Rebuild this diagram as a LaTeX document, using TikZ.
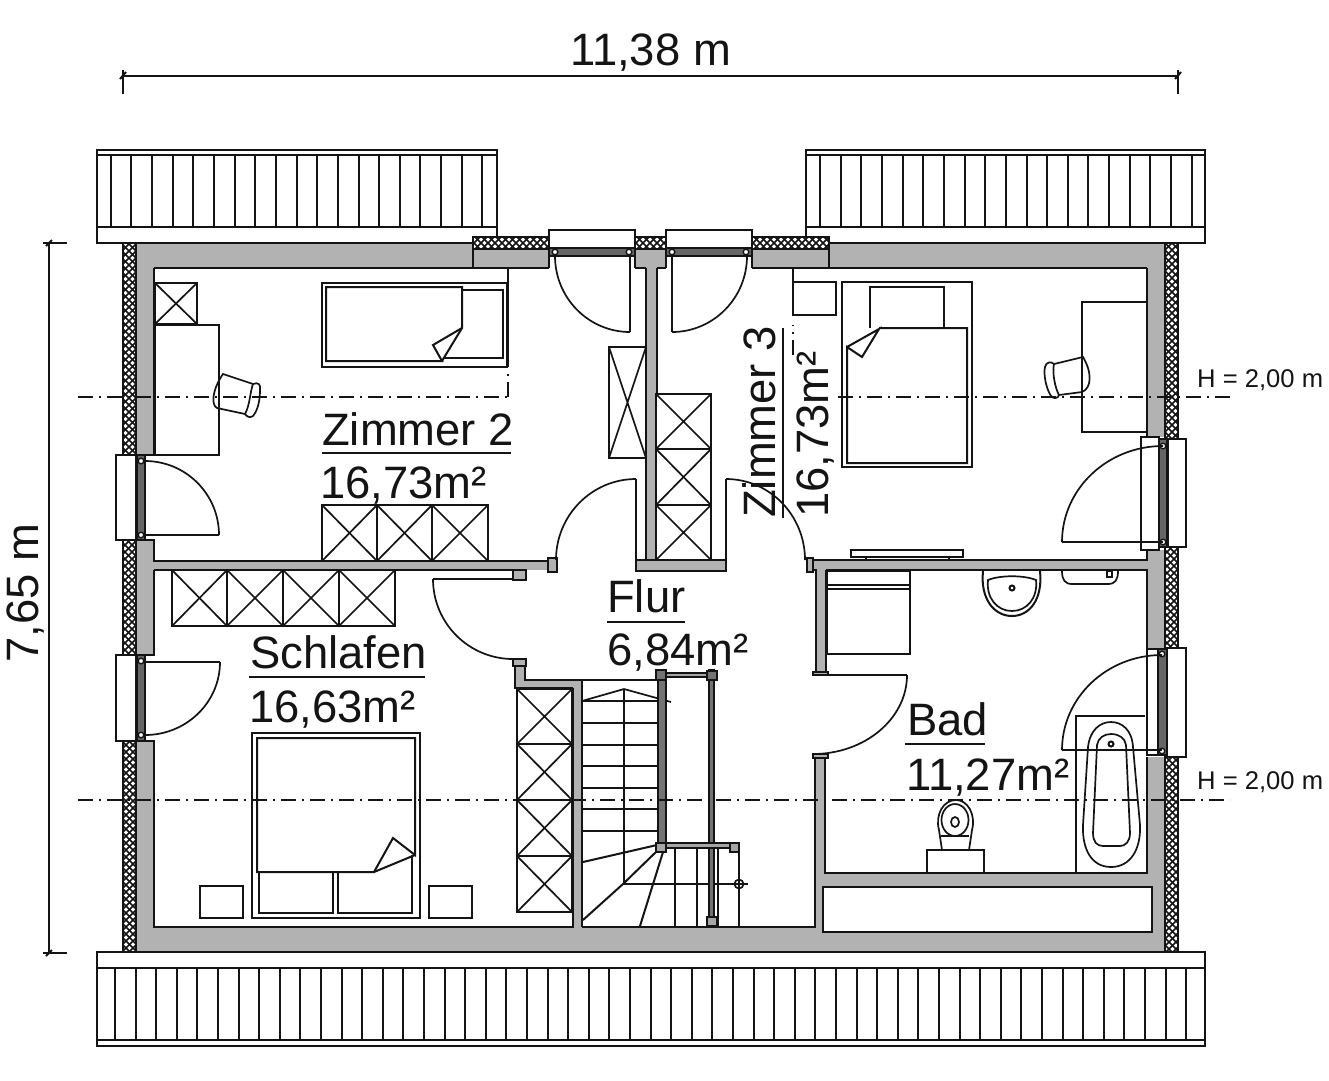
\documentclass[tikz,border=0pt]{standalone}
\usepackage{fontspec}
\setmainfont{Liberation Sans}
\usetikzlibrary{calc}
\definecolor{wallgray}{RGB}{178,178,178}
\definecolor{ink}{RGB}{20,20,20}
\tikzset{
  ln/.style={draw=ink,line width=2pt},
  thinln/.style={draw=ink,line width=1.7pt},
  furn/.style={draw=ink,line width=1.9pt,fill=white},
  wallfill/.style={fill=wallgray,draw=none},
  wallbox/.style={draw=ink,line width=2pt,fill=wallgray},
  winbox/.style={draw=ink,line width=2pt,fill=white},
  dashdot/.style={draw=ink,line width=1.9pt,dash pattern=on 15pt off 6pt on 2pt off 6pt},
  lbl/.style={anchor=base west,inner sep=0pt,text=ink,font=\fontsize{45.4}{46}\selectfont},
  small/.style={anchor=base west,inner sep=0pt,text=ink,font=\fontsize{25.6}{26}\selectfont},
}
% leaf and swing of a door: hinge, free end, other end, corner
\newcommand\doorswing[4]{%
  \draw[ln] #1 -- #2;
  \draw[thinln] #2 .. controls ($#2!.5523!#4$) and ($#3!.5523!#4$) .. #3;
}
\newcommand\hatchbox[4]{%
  \begin{scope}
    \fill[white] (#1,#2) rectangle (#3,#4);
    \clip (#1,#2) rectangle (#3,#4);
    \pgfmathsetmacro\hh{#4-#2}
    \pgfmathsetmacro\ta{#1-\hh-7}
    \pgfmathsetmacro\tb{\ta+7}
    \foreach \t in {\ta,\tb,...,#3} {
      \draw[ink,line width=1.7pt] (\t,#2) -- ++(\hh,\hh);
      \draw[ink,line width=1.7pt] (\t,#4) -- ++(\hh,-\hh);
    }
  \end{scope}
  \draw[ink,line width=1.8pt] (#1,#2) rectangle (#3,#4);
}
\newcommand\xbox[4]{%
  \draw[furn] (#1,#2) rectangle (#3,#4);
  \draw[thinln] (#1,#2) -- (#3,#4) (#1,#4) -- (#3,#2);
}
\begin{document}
\begin{tikzpicture}[x=1pt,y=-1pt]
\useasboundingbox (0,0) rectangle (1329,1080);
\fill[white] (0,0) rectangle (1329,1080);

% roofs
\draw[ln] (96.5,149.5) rectangle (496.5,243);
\draw[ln] (96.5,155) -- (496.5,155) (96.5,227) -- (496.5,227);
\foreach \k in {0,...,18} \draw[ln] ({110.7+20.65*\k},155) -- ({110.7+20.65*\k},227);
\draw[ln] (806,149.5) rectangle (1205,243);
\draw[ln] (806,155) -- (1205,155) (806,227) -- (1205,227);
\foreach \k in {0,...,18} \draw[ln] ({820+20.65*\k},155) -- ({820+20.65*\k},227);
\draw[ln] (97,952) rectangle (1205,1046);
\draw[ln] (97,968) -- (1205,968) (97,1040) -- (1205,1040);
\foreach \k in {0,...,52} \draw[ln] ({115+20.6*\k},968) -- ({115+20.6*\k},1040);

% gray wall surfaces
\fill[wallfill] (136,243) rectangle (473,268);
\fill[wallfill] (473,249) rectangle (549,268);
\fill[wallfill] (635,249) rectangle (666,268);
\fill[wallfill] (752,249) rectangle (829,268);
\fill[wallfill] (829,243) rectangle (1165,268);
\fill[wallfill] (136,243) rectangle (154,455);
\fill[wallfill] (136,540) rectangle (154,655);
\fill[wallfill] (136,741) rectangle (154,952);
\fill[wallfill] (1147,243) rectangle (1165,437);
\fill[wallfill] (1147,550) rectangle (1165,648);
\fill[wallfill] (1147,757) rectangle (1165,952);
\fill[wallfill] (136,927) rectangle (1165,952);
\fill[wallfill] (154,561) rectangle (557,570);
\fill[wallfill] (646,268) rectangle (657,562);
\fill[wallfill] (807,560) rectangle (1147,570);
\fill[wallfill] (816,570) rectangle (826,672);
\fill[wallfill] (815,755) rectangle (825,930);
\fill[wallfill] (515,660) rectangle (525,688);
\fill[wallfill] (515,680) rectangle (582,688);
\fill[wallfill] (573,688) rectangle (582,930);
\fill[wallfill] (815,873) rectangle (1165,890);

% insulation strips
\hatchbox{123}{243}{136}{455}
\hatchbox{123}{540}{136}{655}
\hatchbox{123}{741}{136}{952}
\hatchbox{1165}{243}{1178}{439}
\hatchbox{1165}{547}{1178}{648}
\hatchbox{1165}{757}{1178}{952}
\hatchbox{473}{237}{549}{249}
\hatchbox{635}{237}{666}{249}
\hatchbox{752}{237}{829}{249}

% wall outlines
\draw[ln] (136,243) -- (473,243) (829,243) -- (1165,243);
\draw[ln] (154,268) -- (549,268) (635,268) -- (646,268) (657,268) -- (666,268) (752,268) -- (1147,268);
\draw[ln] (473,237) -- (473,268) (549,230) -- (549,268) (635,230) -- (635,268) (666,230) -- (666,268) (752,230) -- (752,268) (829,237) -- (829,268);
\draw[ln] (646,268) -- (646,560) (657,268) -- (657,560);
\draw[ln] (154,268) -- (154,455) (136,455) -- (154,455);
\draw[ln] (136,540) -- (154,540) -- (154,561) -- (548,561);
\draw[ln] (154,570) -- (513,570);
\draw[ln] (136,655) -- (154,655) -- (154,570);
\draw[ln] (136,741) -- (154,741) -- (154,927) -- (573,927) -- (573,688);
\draw[ln] (582,927) -- (815,927) -- (815,756);
\draw[ln] (825,756) -- (825,873) -- (1147,873) -- (1147,757);
\draw[ln] (1147,268) -- (1147,437);
\draw[ln] (1147,550) -- (1147,560) -- (807,560);
\draw[ln] (826,570) -- (1147,570) -- (1147,648);
\draw[ln] (807,570) -- (816,570) -- (816,672) (826,570) -- (826,672);
\draw[ln] (515,660) -- (515,688) -- (573,688) (525,660) -- (525,680) -- (657,680) (582,680) -- (582,927);
\draw[ln] (136,952) -- (1165,952);
\draw[wallbox] (548,558) rectangle (557,572);
\draw[wallbox] (636,560) rectangle (726,571);
\draw[wallbox] (807,558) rectangle (813,572);
\draw[wallbox] (513,570) rectangle (526,580);
\draw[wallbox] (513,659) rectangle (526,666);
\draw[wallbox] (813,672) rectangle (828,675);
\draw[wallbox] (813,754) rectangle (828,758);
\fill[wallfill] (827,875) rectangle (1145,886);
\draw[furn] (823,887) rectangle (1152,932);

% windows
\draw[winbox] (549,230) rectangle (635,248);
\draw[winbox] (666,230) rectangle (752,248);
\draw[ln,fill=black!60] (549,248) rectangle (635,256);
\draw[ln,fill=black!60] (666,248) rectangle (752,256);
\draw[winbox] (116,455) rectangle (136,540);
\draw[winbox] (116,655) rectangle (136,741);
\draw[ln,fill=black!60] (137,455) rectangle (145,540);
\draw[ln,fill=black!60] (137,655) rectangle (145,741);
\draw[winbox] (1168,439) rectangle (1186,547);
\draw[winbox] (1141,437) rectangle (1159,550);
\draw[ln,fill=black!60] (1159,439) rectangle (1167,547);
\draw[winbox] (1167,648) rectangle (1186,757);
\draw[winbox] (1147,649) rectangle (1158,755);
\draw[ln,fill=black!60] (1158,649) rectangle (1167,755);
\foreach \p in {(555,252),(629,252),(672,252),(746,252),(141,461),(141,535),(141,661),(141,735),(1163,446),(1163,542),(1162,654),(1162,751)}
  \draw[ink,line width=1.4pt,fill=white] \p circle (2.8);

% doors
\doorswing{(630,256)}{(630,332)}{(555,256)}{(555,332)}
\doorswing{(672,256)}{(672,332)}{(747,256)}{(747,332)}
\doorswing{(145,535)}{(219,535)}{(145,461)}{(219,461)}
\doorswing{(145,662)}{(220,662)}{(145,735)}{(220,735)}
\doorswing{(636,560)}{(636,479)}{(556,560)}{(556,479)}
\doorswing{(726,560)}{(726,479)}{(805,560)}{(805,479)}
\doorswing{(513,579)}{(433,579)}{(513,659)}{(433,659)}
\doorswing{(813,675)}{(907,675)}{(813,754)}{(907,754)}
\doorswing{(1163,542)}{(1062,542)}{(1163,446)}{(1062,446)}
\doorswing{(1162,750)}{(1062,750)}{(1162,655)}{(1062,655)}

% Zimmer 2 furniture
\xbox{155}{283}{197}{324}
\draw[furn] (155,325) rectangle (219,455);
\draw[ln] (322,283) rectangle (507,367);
\draw[ln] (508,268) -- (508,367);
\draw[ln] (326,287) -- (462,287) -- (462,328) -- (433,345) -- (442,361) -- (326,361) -- cycle;
\draw[ln] (462,290) -- (503,290) -- (503,358) -- (444,358);
\draw[ln] (462,328) -- (442,361);
\draw[thinln] (223,374) -- (253,384) .. controls (258,382) and (261,384) .. (260,390) .. controls (260,400) and (258,410) .. (253,416) .. controls (250,418) and (247,417) .. (245,414) -- (217,408) .. controls (211,405) and (212,390) .. cycle;
\draw[thinln] (253,384) .. controls (250,392) and (250,405) .. (245,414);
\xbox{322}{505}{377}{561}
\xbox{377}{505}{432}{561}
\xbox{432}{505}{488}{561}
\xbox{609}{347}{646}{458}

% Zimmer 3 furniture
\xbox{656}{394}{711}{449}
\xbox{656}{449}{711}{505}
\xbox{656}{505}{711}{560}
\draw[ln] (793,268) -- (793,315) -- (836,315) -- (836,282) -- (793,282);
\draw[ln] (842,282) rectangle (972,467);
\draw[ln] (870,328) -- (870,287) -- (944,287) -- (944,328);
\draw[ln] (879,328) -- (967,328) -- (967,463) -- (847,463) -- (847,347) -- (862,357) -- (879,329) -- (847,347);
\draw[furn] (1082,302) rectangle (1147,432);
\draw[thinln] (1083,357) -- (1054,364) .. controls (1051,361) and (1046,362) .. (1045,367) .. controls (1043,375) and (1047,392) .. (1052,397) .. controls (1055,399) and (1058,398) .. (1059,395) -- (1082,392) .. controls (1092,388) and (1092,372) .. cycle;
\draw[thinln] (1054,364) .. controls (1052,372) and (1055,388) .. (1059,395);
\draw[furn] (851,550) rectangle (963,557);
\draw[ln] (866,557) -- (866,560) (949,557) -- (949,560);

% Schlafen furniture
\xbox{172}{570}{227}{626}
\xbox{227}{570}{283}{626}
\xbox{283}{570}{339}{626}
\xbox{339}{570}{395}{626}
\draw[ln] (252,733) rectangle (420,918);
\draw[ln] (257,872) -- (257,738) -- (415,738) -- (415,855) -- (393,838) -- (374,872) -- cycle;
\draw[ln] (415,855) -- (374,872);
\draw[ln] (259,872) -- (259,913) -- (333,913) -- (333,872);
\draw[ln] (338,872) -- (338,913) -- (412,913) -- (412,855);
\draw[furn] (200,886) rectangle (243,918);
\draw[furn] (429,886) rectangle (472,918);

% Flur closet
\xbox{517}{689}{572}{744}
\xbox{517}{744}{572}{800}
\xbox{517}{800}{572}{856}
\xbox{517}{856}{572}{912}

% stairs
\foreach \y in {701,723,745,766,788,809,831} \draw[ln] (582,\y) -- (658,\y);
\draw[ln] (624,689) -- (624,884);
\draw[thinln] (582,701) -- (624,689) -- (671,702);
\draw[ln] (583,862) -- (657,845);
\draw[ln] (583,920) -- (623,884) -- (658,850);
\draw[ln] (640,926) -- (663,852);
\draw[ln] (623,884) -- (748,884);
\foreach \x in {675,697,718} \draw[ln] (\x,848) -- (\x,927);
\draw[ln] (739,843) -- (739,927);
\draw[thinln] (739,884) circle (4.5);
\draw[ln,fill=black!55] (658,670) rectangle (666,847);
\draw[ln,fill=black!55] (709,670) rectangle (714,917);
\draw[ln,fill=black!35] (666,673) rectangle (707,677);
\draw[ln,fill=black!35] (664,843) rectangle (730,848);
\draw[ln,fill=black!55] (656,670) rectangle (666,680);
\draw[ln,fill=black!55] (707,671) rectangle (717,680);
\draw[ln,fill=black!35] (656,843) rectangle (666,852);
\draw[ln,fill=black!35] (730,843) rectangle (739,852);
\draw[ln,fill=black!35] (707,917) rectangle (717,926);

% Bad furniture
\draw[furn] (827,571) rectangle (910,654);
\draw[ln] (827,585) -- (910,585) (827,589) -- (910,589);
\draw[ln] (983,571) .. controls (980,600) and (995,616) .. (1012,616) .. controls (1029,616) and (1043,600) .. (1040,571);
\draw[thinln] (988,580) .. controls (986,598) and (997,611) .. (1012,611) .. controls (1027,611) and (1038,598) .. (1036,580) .. controls (1024,575) and (1000,575) .. cycle;
\draw[ln] (1012,588) circle (2.5);
\draw[thinln] (1062,571) .. controls (1062,580) and (1065,584) .. (1072,584) -- (1108,584) .. controls (1115,584) and (1118,580) .. (1118,571);
\draw[thinln] (1107,571) rectangle (1112,577);
\draw[ln] (1076,873) -- (1076,716) -- (1145,716);
\draw[thinln] (1088,747) .. controls (1090,730) and (1100,722) .. (1111,722) .. controls (1122,722) and (1132,730) .. (1133,747) -- (1140,825) .. controls (1141,850) and (1130,867) .. (1111,867) .. controls (1092,867) and (1082,850) .. (1083,825) -- cycle;
\draw[thinln] (1097,745) .. controls (1098,738) and (1104,734) .. (1111,734) .. controls (1119,734) and (1125,738) .. (1126,745) -- (1130,833) .. controls (1130,842) and (1125,846) .. (1120,846) -- (1103,846) .. controls (1097,846) and (1093,842) .. (1093,833) -- cycle;
\draw[ln] (1111,744) circle (2.5);
\draw[ln] (927,873) -- (927,850) -- (984,850) -- (984,873);
\draw[thinln] (942,850) -- (939,830) .. controls (935,815) and (943,800) .. (956,800) .. controls (968,800) and (976,815) .. (972,830) -- (969,850);
\draw[thinln] (955,820) ellipse (13.5 and 16);
\draw[thinln] (955,822) ellipse (4 and 5);
\draw[thinln] (941,836) -- (969,836);

% height lines
\draw[dashdot] (78,397) -- (508,397);
\draw[dashdot] (508,397) -- (508,370);
\draw[dashdot] (793,355) -- (793,325);
\draw[dashdot] (838,397) -- (1230,397);
\draw[dashdot] (78,800) -- (1230,800);

% dimensions
\draw[ln] (123,75.5) -- (1178,75.5);
\draw[ln] (123,70) -- (123,94) (1178,70) -- (1178,94);
\draw[ln] (120,79) -- (126,72) (1175,79) -- (1181,72);
\draw[ln] (49,243) -- (49,953);
\draw[ln] (43,243) -- (67,243) (43,953) -- (67,953);
\draw[ln] (46,246) -- (52,240) (46,956) -- (52,950);

% labels
\node[lbl] (dimw) at (570,65) {11,38 m};
\node[lbl,rotate=90] (dimh) at (38,663) {7,65 m};
\node[small] (h1) at (1197,387) {H = 2,00 m};
\node[small] (h2) at (1197,789) {H = 2,00 m};
\node[lbl] (z2n) at (322,445) {Zimmer 2};
\node[lbl] (z2a) at (320,498) {16,73m²};
\node[lbl] (sn) at (250,668) {Schlafen};
\node[lbl] (sa) at (249,722) {16,63m²};
\node[lbl] (fn) at (607,612) {Flur};
\node[lbl] (fa) at (607,665) {6,84m²};
\node[lbl] (bn) at (907,735) {Bad};
\node[lbl] (ba) at (906,790) {11,27m²};
\node[lbl,rotate=90] (z3n) at (775,518) {Zimmer 3};
\node[lbl,rotate=90] (z3a) at (828,518) {16,73m²};
\draw[thinln] (322,453) -- (511,453);
\draw[thinln] (249,677) -- (425,677);
\draw[thinln] (607,622) -- (685,622);
\draw[thinln] (905,744) -- (985,744);
\draw[thinln] (783,328) -- (783,518);
\end{tikzpicture}
\end{document}
